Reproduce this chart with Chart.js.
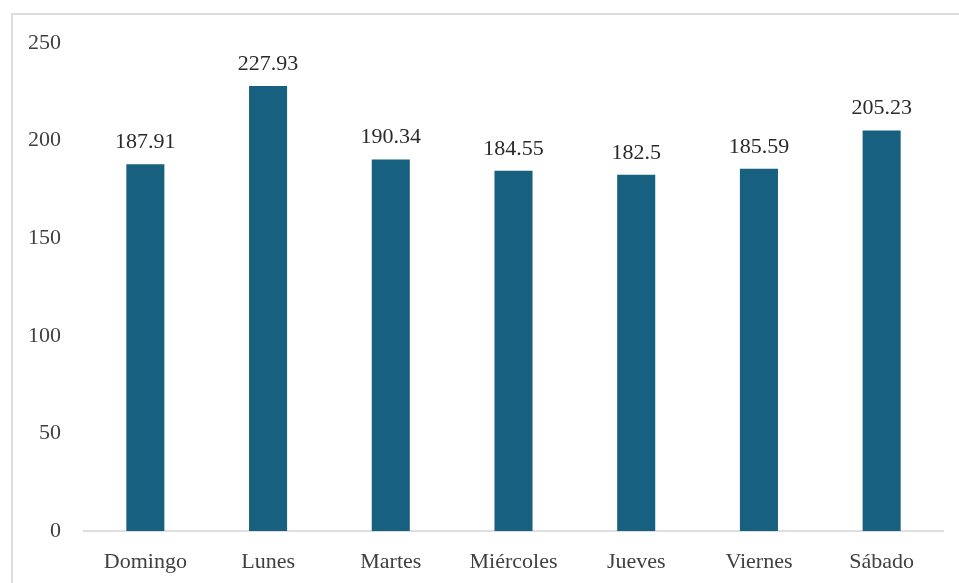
<!DOCTYPE html>
<html>
<head>
<meta charset="utf-8">
<script src="https://cdn.jsdelivr.net/npm/chart.js@4/dist/chart.umd.min.js"></script>
<style>
  html, body { margin: 0; padding: 0; background: #ffffff; }
  #wrap { position: relative; width: 959px; height: 583px; overflow: hidden; }
  #frame { position: absolute; left: 11px; top: 13px; width: 1000px; height: 1000px;
           border-top: 2px solid #dcdcdc; border-left: 2px solid #dcdcdc; }
  canvas { position: absolute; left: 0; top: 0; }
</style>
</head>
<body>
<div id="wrap">
  <div id="frame"></div>
  <canvas id="c" width="959" height="583"></canvas>
</div>
<script>
const categories = ["Domingo", "Lunes", "Martes", "Miércoles", "Jueves", "Viernes", "Sábado"];
const values = [187.91, 227.93, 190.34, 184.55, 182.5, 185.59, 205.23];
const valueLabels = ["187.91", "227.93", "190.34", "184.55", "182.5", "185.59", "205.23"];
const yTicks = [0, 50, 100, 150, 200, 250];

const FONT = "'Liberation Serif', 'Times New Roman', serif";

const labelPlugin = {
  id: 'valueLabels',
  afterDatasetsDraw(chart) {
    const ctx = chart.ctx;
    const meta = chart.getDatasetMeta(0);
    ctx.save();
    ctx.font = "22px " + FONT;
    ctx.fillStyle = "#2a2a2a";
    ctx.textAlign = "center";
    ctx.textBaseline = "alphabetic";
    meta.data.forEach((bar, i) => {
      ctx.fillText(valueLabels[i], bar.x, bar.y - 16);
    });
    ctx.restore();
  }
};

new Chart(document.getElementById('c'), {
  type: 'bar',
  data: {
    labels: categories,
    datasets: [{
      data: values,
      backgroundColor: '#17607f',
      borderWidth: 0,
      barPercentage: 0.31,
      categoryPercentage: 1.0
    }]
  },
  options: {
    responsive: false,
    animation: false,
    events: [],
    layout: { padding: { top: 43, right: 16, left: 0, bottom: 0 } },
    plugins: { legend: { display: false }, tooltip: { enabled: false } },
    scales: {
      x: {
        grid: { display: false },
        border: { display: true, color: '#dedede', width: 2 },
        ticks: { color: '#404040', font: { family: FONT, size: 22 }, padding: 10, maxRotation: 0 },
        afterFit(scale) { scale.height = 52; }
      },
      y: {
        min: 0, max: 250,
        afterBuildTicks(scale) { scale.ticks = yTicks.map(v => ({ value: v })); },
        grid: { display: false },
        border: { display: false },
        ticks: { color: '#404040', font: { family: FONT, size: 22 }, padding: 15 },
        afterFit(scale) { scale.width = 84; }
      }
    }
  },
  plugins: [labelPlugin]
});
</script>
</body>
</html>
